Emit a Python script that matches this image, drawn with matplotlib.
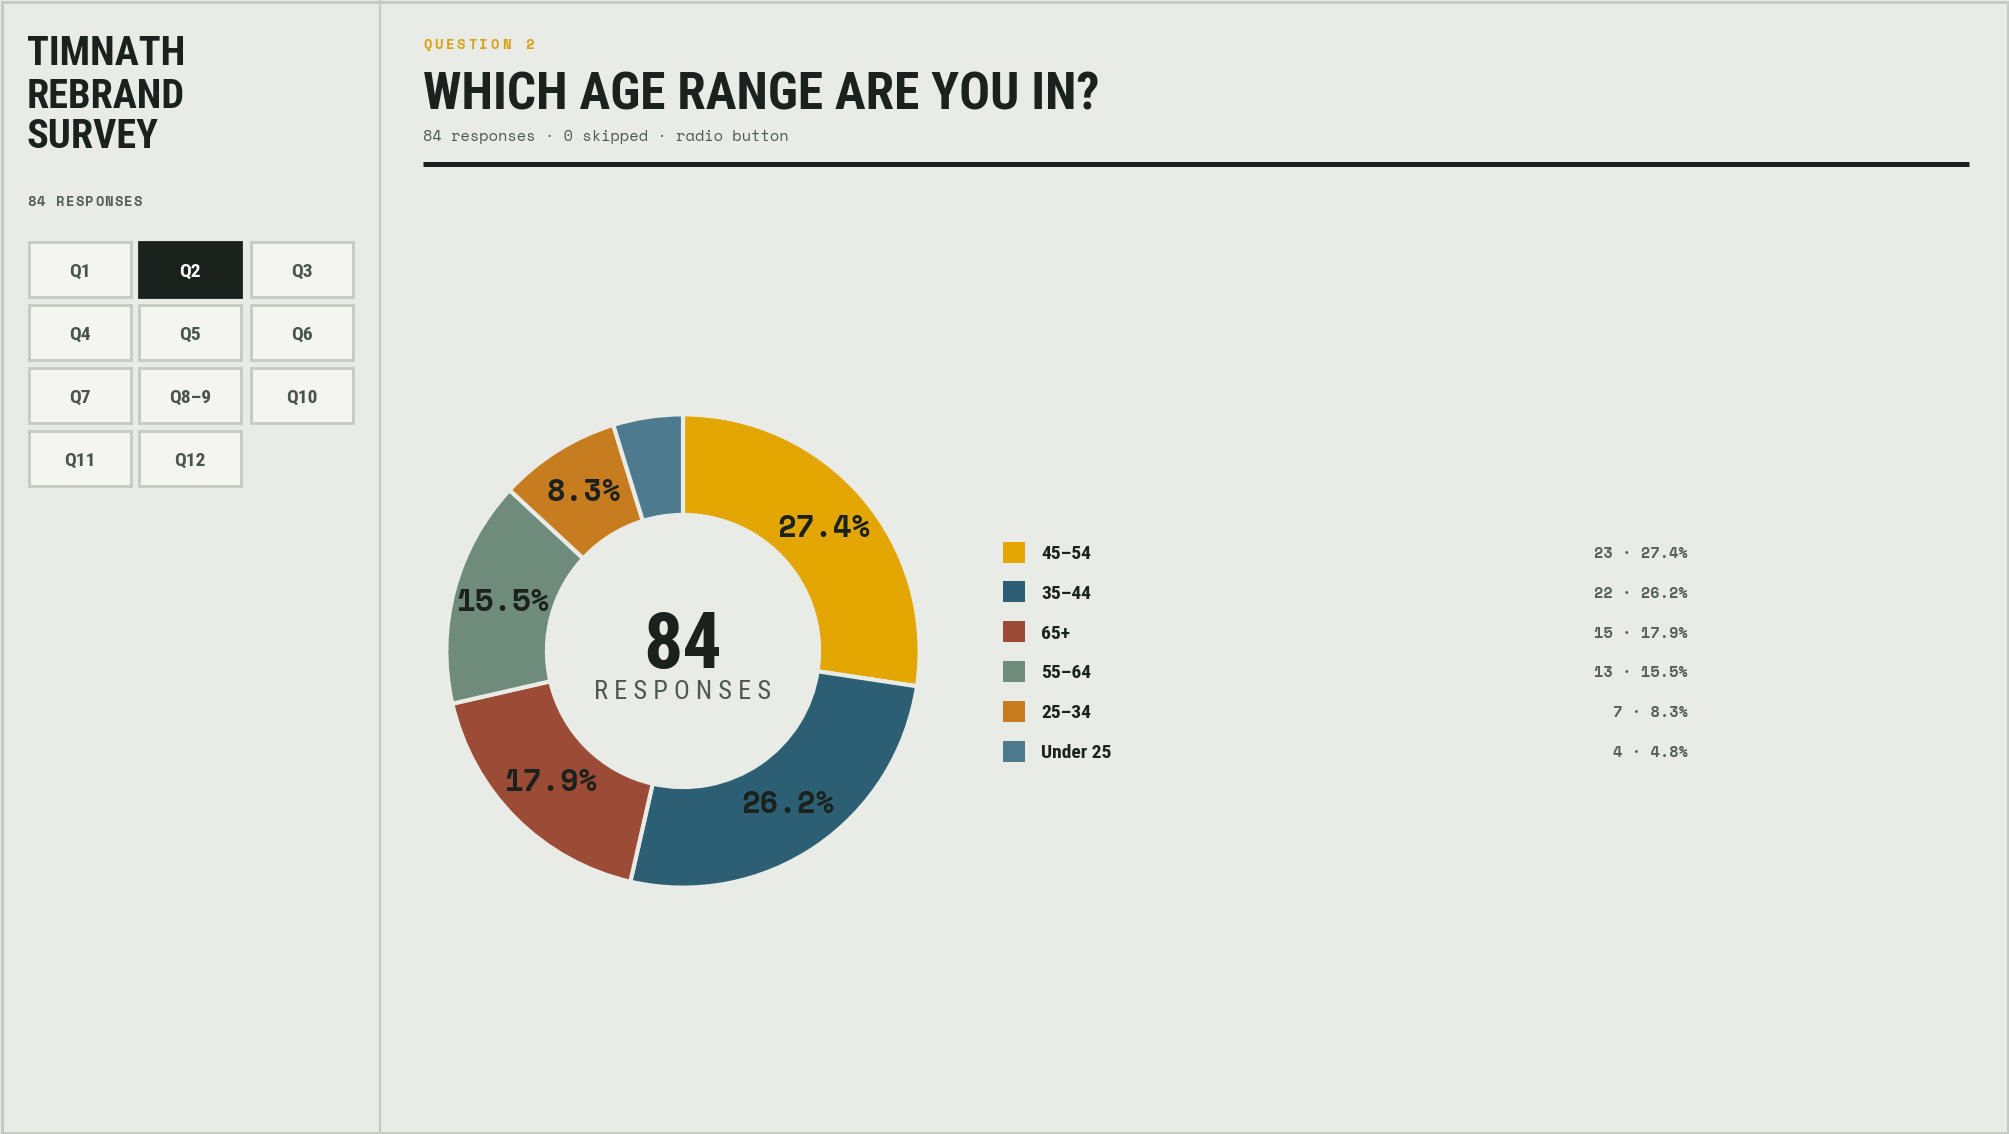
import matplotlib
matplotlib.use('Agg')
import matplotlib.pyplot as plt
from matplotlib.patches import Rectangle

# survey data - question 2
ages = ['45–54', '35–44', '65+', '55–64', '25–34', 'Under 25']
counts = [23, 22, 15, 13, 7, 4]
colors = ['#E3A600', '#2C5F73', '#9B4B36', '#6E8B7B', '#C87C20', '#4D7A8F']
total = sum(counts)

questions = ['Q1', 'Q2', 'Q3', 'Q4', 'Q5', 'Q6', 'Q7', 'Q8–9', 'Q10', 'Q11', 'Q12']
active_q = 'Q2'

BG = '#E9ECE6'
INK = '#1B211C'
GREY = '#565E58'
LINE = '#C7CAC3'
COND = ['Roboto Condensed', 'DejaVu Sans']
MONO = ['Space Mono', 'DejaVu Sans Mono']

W, H = 2009, 1134
fig = plt.figure(figsize=(W / 100, H / 100), dpi=100, facecolor=BG)

# overlay axes in pixel coords (y down)
ov = fig.add_axes([0, 0, 1, 1], zorder=0)
ov.set_xlim(0, W)
ov.set_ylim(H, 0)
ov.axis('off')


def spaced(x, y, s, step, **kw):
    for i, ch in enumerate(s):
        ov.text(x + i * step, y, ch, ha='left', va='baseline', **kw)


# frame + sidebar divider
ov.add_patch(Rectangle((1.5, 1.5), W - 3, H - 3, fill=False, ec=LINE, lw=2.2))
ov.plot([380, 380], [0, H], color=LINE, lw=1.6)

# sidebar
for txt, yb in zip(['TIMNATH', 'REBRAND', 'SURVEY'], [65, 108, 148]):
    ov.text(27, yb, txt, family=COND, weight='bold', fontsize=29, color=INK,
            va='baseline')
spaced(27, 206, '84 RESPONSES', 9.7, family=MONO, weight='bold', fontsize=10,
       color=GREY)

bx = [29, 139, 251]
by = [242, 305, 368, 431]
bw, bh = 102, 55
for i, q in enumerate(questions):
    r, c = divmod(i, 3)
    on = q == active_q
    ov.add_patch(Rectangle((bx[c], by[r]), bw, bh,
                           fc=INK if on else '#F4F5F1',
                           ec=INK if on else LINE, lw=2))
    ov.text(bx[c] + bw / 2, by[r] + bh / 2 + 7, q, ha='center', va='baseline',
            family=COND, weight='bold', fontsize=14,
            color='#FFFFFF' if on else '#4B534D')

# header
spaced(423, 49, 'QUESTION 2', 11.3, family=MONO, weight='bold', fontsize=10,
       color='#D9A014')
ov.text(423, 109, 'WHICH AGE RANGE ARE YOU IN?', family=COND, weight='bold',
        fontsize=37, color=INK, va='baseline')
ov.text(423, 141, f'{total} responses · 0 skipped · radio button', family=MONO,
        fontsize=11, color='#4F5751', va='baseline')
ov.plot([423, 1969], [164, 164], color=INK, lw=3.6, solid_capstyle='butt')

# donut
cx, cy, R = 683, 651, 239
pax = fig.add_axes([(cx - R) / W, (H - cy - R) / H, 2 * R / W, 2 * R / H],
                   zorder=2)
pax.set_facecolor('none')


def pct_label(p):
    return f'{p:.1f}%' if p >= 5 else ''


wedges, _, autotexts = pax.pie(
    counts, colors=colors, startangle=90, counterclock=False, radius=1,
    autopct=pct_label, pctdistance=0.7875,
    wedgeprops=dict(width=0.425, edgecolor=BG, linewidth=3),
    textprops=dict(family=MONO, weight='bold', fontsize=22, color=INK))
pax.set_xlim(-1.01, 1.01)
pax.set_ylim(-1.01, 1.01)
pax.set_aspect('equal')
pax.axis('off')

ov.text(cx, 668, str(total), ha='center', va='baseline', family=COND,
        weight='bold', fontsize=56, color=INK)
ov.text(cx, 699, '\u2005'.join('RESPONSES'), ha='center', va='baseline',
        family=COND, fontsize=19, color='#4F5751')

# legend
for i, (lab, n, col) in enumerate(zip(ages, counts, colors)):
    yc = 552 + i * 39.8
    ov.add_patch(Rectangle((1003, yc - 10.5), 22, 21, fc=col, ec='none'))
    ov.text(1041, yc + 7, lab, family=COND, weight='bold', fontsize=14,
            color=INK, va='baseline')
    ov.text(1688, yc + 6, f'{n} · {100 * n / total:.1f}%', family=MONO,
            weight='bold', fontsize=11, color=GREY, ha='right', va='baseline')

fig.savefig('out.png', dpi=100, facecolor=BG)
